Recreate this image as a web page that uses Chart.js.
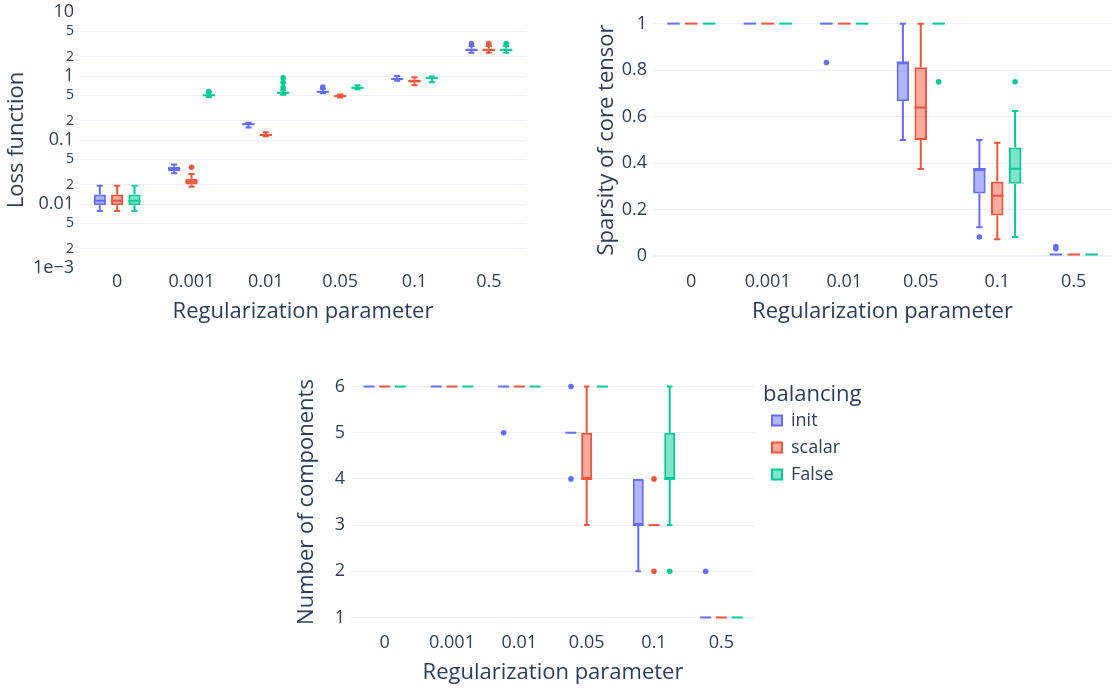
<!DOCTYPE html>
<html><head><meta charset="utf-8">
<script src="https://cdn.jsdelivr.net/npm/chart.js@4.4.1/dist/chart.umd.min.js"></script>
<style>
html,body{margin:0;padding:0;background:#fff;width:1112px;height:690px;overflow:hidden;position:relative;}
canvas{position:absolute;}
</style></head><body>
<canvas id="c1" width="545" height="330" style="left:0px;top:0px"></canvas>
<canvas id="c2" width="552" height="330" style="left:560px;top:0px"></canvas>
<canvas id="c3" width="600" height="330" style="left:290px;top:360px"></canvas>
<script>
const categories = ['0','0.001','0.01','0.05','0.1','0.5'];
const seriesNames = ['init','scalar','False'];

// Each entry: [min, q1, median, q3, max] for one category
const lossInit   = [[0.0078,0.0096,0.0112,0.0141,0.0192],[0.0301,0.0327,0.0351,0.0382,0.0416],[0.157,0.172,0.177,0.182,0.186],[0.54,0.55,0.565,0.58,0.63],[0.84,0.87,0.90,0.93,1.0],[2.3,2.45,2.55,2.7,2.95]];
const lossScalar = [[0.0078,0.0096,0.0112,0.0141,0.0192],[0.0186,0.0202,0.0222,0.0248,0.0293],[0.114,0.117,0.12,0.124,0.132],[0.46,0.47,0.485,0.50,0.515],[0.72,0.79,0.83,0.88,0.96],[2.3,2.45,2.55,2.7,2.95]];
const lossFalse  = [[0.0078,0.0096,0.0112,0.0141,0.0192],[0.47,0.49,0.50,0.51,0.55],[0.51,0.53,0.545,0.56,0.60],[0.62,0.64,0.655,0.67,0.72],[0.80,0.90,0.93,0.96,0.98],[2.3,2.45,2.55,2.7,2.95]];
const lossInitOut   = [[],[],[],[0.67],[],[3.2]];
const lossScalarOut = [[],[0.0374],[],[],[],[3.2]];
const lossFalseOut  = [[],[0.57],[0.66,0.80,0.94],[],[],[3.2]];

const sparInit   = [[1,1,1,1,1],[1,1,1,1,1],[1,1,1,1,1],[0.5,0.667,0.833,0.833,1],[0.125,0.27,0.375,0.375,0.5],[0.008,0.008,0.008,0.008,0.008]];
const sparScalar = [[1,1,1,1,1],[1,1,1,1,1],[1,1,1,1,1],[0.375,0.5,0.64,0.8125,1],[0.073,0.1755,0.26,0.322,0.488],[0.008,0.008,0.008,0.008,0.008]];
const sparFalse  = [[1,1,1,1,1],[1,1,1,1,1],[1,1,1,1,1],[1,1,1,1,1],[0.083,0.312,0.376,0.468,0.625],[0.008,0.008,0.008,0.008,0.008]];
const sparInitOut   = [[],[],[0.833],[],[0.083],[0.033,0.042]];
const sparScalarOut = [[],[],[],[],[],[]];
const sparFalseOut  = [[],[],[],[0.75],[0.75],[]];

const compInit   = [[6,6,6,6,6],[6,6,6,6,6],[6,6,6,6,6],[5,5,5,5,5],[2,3,3,4,4],[1,1,1,1,1]];
const compScalar = [[6,6,6,6,6],[6,6,6,6,6],[6,6,6,6,6],[3,4,4,5,6],[3,3,3,3,3],[1,1,1,1,1]];
const compFalse  = [[6,6,6,6,6],[6,6,6,6,6],[6,6,6,6,6],[6,6,6,6,6],[3,4,4,5,6],[1,1,1,1,1]];
const compInitOut   = [[],[],[5],[4,6],[],[2]];
const compScalarOut = [[],[],[],[],[2,4],[]];
const compFalseOut  = [[],[],[],[],[2],[]];

const lossTickValues = [0.001,0.002,0.005,0.01,0.02,0.05,0.1,0.2,0.5,1,2,5,10];
const lossTickLabels = ['1e\u22123','2','5','0.01','2','5','0.1','2','5','1','2','5','10'];
const sparTickValues = [0,0.2,0.4,0.6,0.8,1];
const sparTickLabels = ['0','0.2','0.4','0.6','0.8','1'];
const compTickValues = [1,2,3,4,5,6];
const compTickLabels = ['1','2','3','4','5','6'];

const FONT = '"Open Sans", sans-serif';
const TXT = '#2a3f5f';
const GRID = '#EBF0F8';
const lineColors = ['#636efa','#EF553B','#00cc96'];
const fillColors = ['rgba(99,110,250,0.5)','rgba(239,85,59,0.5)','rgba(0,204,150,0.5)'];

const boxPlugin = {
  id: 'boxWhiskers',
  afterDatasetsDraw(chart) {
    const ctx = chart.ctx, ys = chart.scales.y;
    chart.data.datasets.forEach((ds, i) => {
      const meta = chart.getDatasetMeta(i);
      if (meta.hidden) return;
      meta.data.forEach((bar, j) => {
        const s = ds.stats[j];
        const x = bar.x, w = bar.width;
        const pMin = ys.getPixelForValue(s[0]), pQ1 = ys.getPixelForValue(s[1]);
        const pMed = ys.getPixelForValue(s[2]), pQ3 = ys.getPixelForValue(s[3]);
        const pMax = ys.getPixelForValue(s[4]);
        ctx.save();
        ctx.strokeStyle = ds.borderColor;
        ctx.lineWidth = 2;
        ctx.beginPath();
        if (s[4] > s[3]) {
          ctx.moveTo(x, pQ3); ctx.lineTo(x, pMax);
          ctx.moveTo(x - w / 4, pMax); ctx.lineTo(x + w / 4, pMax);
        }
        if (s[0] < s[1]) {
          ctx.moveTo(x, pQ1); ctx.lineTo(x, pMin);
          ctx.moveTo(x - w / 4, pMin); ctx.lineTo(x + w / 4, pMin);
        }
        ctx.moveTo(x - w / 2, pMed); ctx.lineTo(x + w / 2, pMed);
        ctx.stroke();
        ctx.fillStyle = ds.borderColor;
        (ds.outliers[j] || []).forEach(v => {
          ctx.beginPath();
          ctx.arc(x, ys.getPixelForValue(v), 2.8, 0, Math.PI * 2);
          ctx.fill();
        });
        ctx.restore();
      });
    });
  }
};

const legendShift = {
  id: 'legendShift',
  afterLayout(chart) {
    const l = chart.legend;
    if (l) { l.left += 8; l.right = l.left + 125; l.width = 125; }
  }
};

function boxDatasets(stats, outs) {
  return seriesNames.map((name, i) => ({
    label: name,
    data: stats[i].map(s => [s[1], s[3]]),
    stats: stats[i],
    outliers: outs[i],
    backgroundColor: fillColors[i],
    borderColor: lineColors[i],
    borderWidth: 2,
    borderSkipped: false,
    categoryPercentage: 0.7,
    barPercentage: 0.7
  }));
}

function xAxis(height, tickPad, titlePadBottom) {
  return {
    type: 'category', offset: true,
    grid: { display: false, drawTicks: false }, border: { display: false },
    ticks: { font: { family: FONT, size: 18 }, color: TXT, padding: tickPad, maxRotation: 0, autoSkip: false },
    title: { display: true, text: 'Regularization parameter', font: { family: FONT, size: 22 }, color: TXT, padding: { top: 0, bottom: titlePadBottom } },
    afterFit: s => { s.height = height; }
  };
}

function yAxis(o) {
  return {
    type: o.type, min: o.min, max: o.max,
    afterBuildTicks: s => { s.ticks = o.values.map(v => ({ value: v })); },
    afterFit: s => { s.width = o.width; },
    grid: { drawTicks: false, color: o.gridColor || GRID, lineWidth: o.gridWidth || 1 },
    border: { display: false },
    ticks: {
      autoSkip: false, padding: 6, color: TXT,
      font: o.font || { family: FONT, size: 18, lineHeight: 0.6 },
      callback: (v, i) => o.labels[i]
    },
    title: { display: true, text: o.title, font: { family: FONT, size: 22 }, color: TXT, padding: { top: o.titlePad, bottom: 0 } }
  };
}

const baseOpts = { responsive: false, animation: false, events: [] };

new Chart(document.getElementById('c1'), {
  type: 'bar',
  data: { labels: categories, datasets: boxDatasets([lossInit, lossScalar, lossFalse], [lossInitOut, lossScalarOut, lossFalseOut]) },
  options: Object.assign({}, baseOpts, {
    layout: { padding: { top: 12, right: 19, bottom: 0, left: 0 } },
    plugins: { legend: { display: false }, tooltip: { enabled: false } },
    scales: {
      x: xAxis(62, 3, 5),
      y: yAxis({
        type: 'logarithmic', min: 0.001, max: 10, values: lossTickValues, labels: lossTickLabels,
        width: 80, title: 'Loss function', titlePad: 4,
        gridColor: c => (c.tick && (c.tick.value === 0.001 || c.tick.value === 10)) ? 'rgba(0,0,0,0)' : GRID,
        font: c => { const l = lossTickLabels[c.index]; return { family: FONT, size: (l === '2' || l === '5') ? 14 : 18, lineHeight: 0.6 }; }
      })
    }
  }),
  plugins: [boxPlugin]
});

new Chart(document.getElementById('c2'), {
  type: 'bar',
  data: { labels: categories, datasets: boxDatasets([sparInit, sparScalar, sparFalse], [sparInitOut, sparScalarOut, sparFalseOut]) },
  options: Object.assign({}, baseOpts, {
    layout: { padding: { top: 12, right: 0, bottom: 0, left: 0 } },
    plugins: { legend: { display: false }, tooltip: { enabled: false } },
    scales: {
      x: xAxis(62, 3, 5),
      y: yAxis({
        type: 'linear', min: -0.05, max: 1.05, values: sparTickValues, labels: sparTickLabels,
        width: 93, title: 'Sparsity of core tensor', titlePad: 34,
        gridWidth: c => (c.tick && c.tick.value === 0) ? 2 : 1
      })
    }
  }),
  plugins: [boxPlugin]
});

new Chart(document.getElementById('c3'), {
  type: 'bar',
  data: { labels: categories, datasets: boxDatasets([compInit, compScalar, compFalse], [compInitOut, compScalarOut, compFalseOut]) },
  options: Object.assign({}, baseOpts, {
    layout: { padding: { top: 15, right: 75, bottom: 0, left: 0 } },
    plugins: {
      tooltip: { enabled: false },
      legend: {
        display: true, position: 'right', align: 'start', maxWidth: 60,
        title: { display: true, text: 'balancing', position: 'start', font: { family: FONT, size: 22 }, color: TXT, padding: { top: 9, bottom: -8 } },
        labels: { boxWidth: 10, boxHeight: 10, padding: 9, font: { family: FONT, size: 18 }, color: TXT }
      }
    },
    scales: {
      x: xAxis(61, 3, 4),
      y: yAxis({
        type: 'linear', min: 0.75, max: 6.25, values: compTickValues, labels: compTickLabels,
        width: 61, title: 'Number of components', titlePad: 4
      })
    }
  }),
  plugins: [boxPlugin, legendShift]
});
</script>
</body></html>
